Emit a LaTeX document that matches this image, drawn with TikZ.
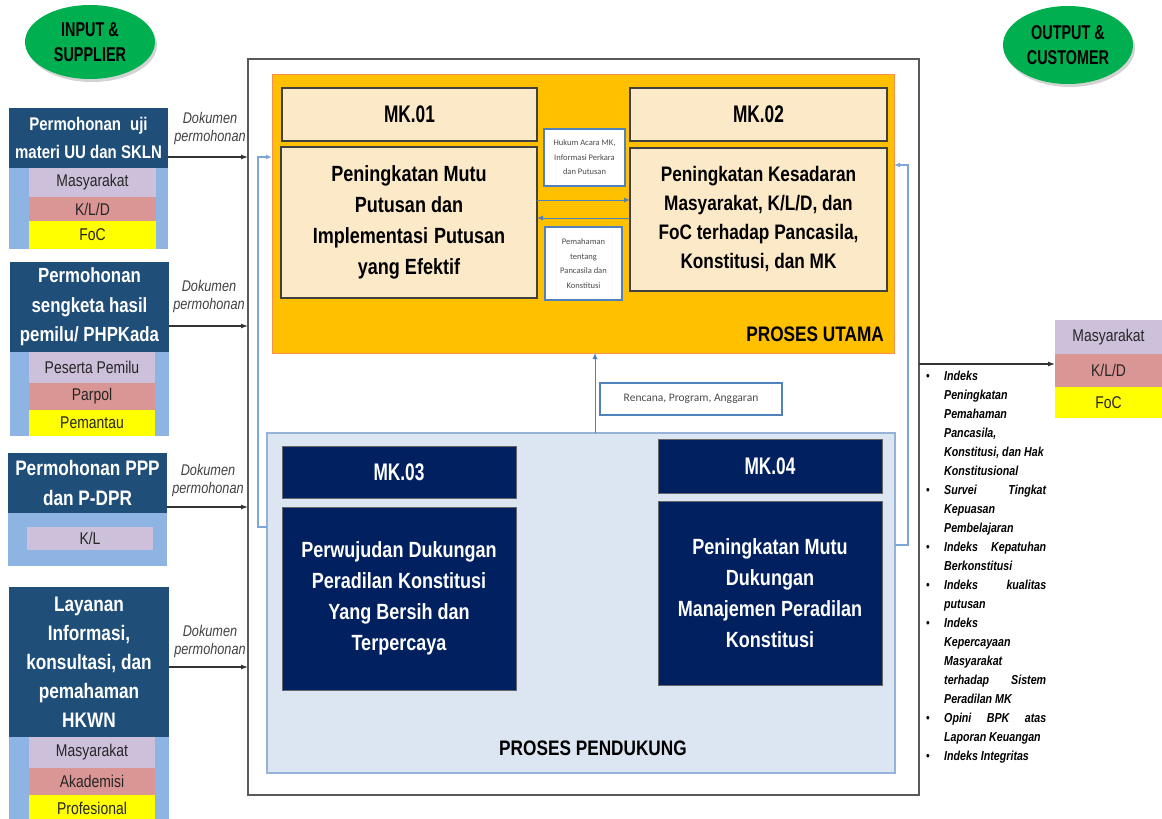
\documentclass[tikz,border=0pt]{standalone}
\usepackage{fontspec}
\setmainfont[FakeStretch=0.82]{Liberation Sans}
\newfontfamily\narrowf[FakeStretch=0.72]{Liberation Sans}
\newfontfamily\calib{Carlito}
\usetikzlibrary{arrows.meta,shadows,shapes.geometric}
\definecolor{hdrblue}{HTML}{1F4E79}
\definecolor{panel}{HTML}{8DB4E2}
\definecolor{lav}{HTML}{CCC0DA}
\definecolor{rose}{HTML}{DA9694}
\definecolor{yel}{HTML}{FFFF00}
\definecolor{grn}{HTML}{00B050}
\definecolor{orng}{HTML}{FFC000}
\definecolor{orngb}{HTML}{F58F4E}
\definecolor{cream}{HTML}{FCE9C7}
\definecolor{navy}{HTML}{002060}
\definecolor{pale}{HTML}{DCE6F2}
\definecolor{paleb}{HTML}{95B3D7}
\definecolor{conblue}{HTML}{4F81BD}
\definecolor{loopblue}{HTML}{7EA6D8}
\newcommand\myfs[2]{\fontsize{#1}{#2}\selectfont}
\begin{document}
\begin{tikzpicture}[x=1pt,y=-1pt,
  bx/.style n args={2}{minimum width=#1pt, minimum height=#2pt, anchor=north west, inner sep=0pt, outer sep=0pt, align=center},
  hdr/.style={fill=hdrblue, text=white, font=\bfseries},
  strip/.style={text=black!85},
  oval/.style={ellipse, fill=grn, inner sep=0pt, align=center, font=\narrowf\myfs{20}{25}\bfseries,
     drop shadow={shadow xshift=2pt, shadow yshift=-3pt, opacity=0.35}},
  creambox/.style={fill=cream, draw=black!75, line width=1.2pt, font=\bfseries},
  navybox/.style={fill=navy, draw=black!60, line width=1pt, text=white, font=\bfseries},
  infobox/.style={fill=white, draw=conblue, line width=2.5pt, font=\calib\myfs{8.5}{14.5}, text=black!70},
  arr/.style={-{Latex[length=7pt,width=5pt]}, line width=1.2pt, draw=black!80},
  barr/.style={-{Latex[length=6pt,width=5pt]}, line width=1pt, draw=conblue},
  loopl/.style={-{Latex[length=6pt,width=5pt]}, line width=1.2pt, draw=loopblue},
  doklbl/.style={align=center, font=\itshape\myfs{15.5}{18}, text=black!75, inner sep=0pt}
]
\useasboundingbox (0,0) rectangle (1162,819);

% ellipses
\node[oval, minimum width=130pt, minimum height=74pt] (inp) at (90,42) {INPUT \&\\SUPPLIER};
\node[oval, minimum width=130pt, minimum height=78pt] (outp) at (1068,45) {OUTPUT \&\\CUSTOMER};

% left box 1
\node[bx={159}{141}, fill=panel] (p1) at (9,108) {};
\node[bx={159}{60}, hdr, font=\bfseries\myfs{18.3}{28}] (h1) at (9,108) {Permohonan\hspace{9pt}uji\\materi UU dan SKLN};
\node[bx={127}{29}, strip, fill=lav, font=\myfs{17}{20}] (s1a) at (29,168) {Masyarakat};
\node[bx={127}{24}, strip, fill=rose, font=\myfs{17}{20}] (s1b) at (29,197) {K/L/D};
\node[bx={127}{28}, strip, fill=yel, font=\myfs{17}{20}] (s1c) at (29,221) {FoC};

% left box 2
\node[bx={159}{174}, fill=panel] (p2) at (10,262) {};
\node[bx={159}{90}, hdr, font=\bfseries\myfs{20.5}{29.5}] (h2) at (10,262) {Permohonan\\sengketa hasil\\pemilu/ PHPKada};
\node[bx={126}{31}, strip, fill=lav, font=\myfs{17}{20}] (s2a) at (29,352) {Peserta Pemilu};
\node[bx={126}{27}, strip, fill=rose, font=\myfs{17}{20}] (s2b) at (29,383) {Parpol};
\node[bx={126}{26}, strip, fill=yel, font=\myfs{17}{20}] (s2c) at (29,410) {Pemantau};

% left box 3
\node[bx={159}{113}, fill=panel] (p3) at (8,453) {};
\node[bx={159}{60}, hdr, font=\bfseries\myfs{21}{30}] (h3) at (8,453) {Permohonan PPP\\dan P-DPR};
\node[bx={126}{23}, strip, fill=lav, font=\myfs{17}{20}] (s3) at (27,527) {K/L};

% left box 4
\node[bx={160}{232}, fill=panel] (p4) at (9,587) {};
\node[bx={160}{150}, hdr, font=\bfseries\myfs{21}{29}] (h4) at (9,587) {Layanan\\Informasi,\\konsultasi, dan\\pemahaman\\HKWN};
\node[bx={126}{31}, strip, fill=lav, font=\myfs{17}{20}] (s4a) at (29,737) {Masyarakat};
\node[bx={126}{27}, strip, fill=rose, font=\myfs{17}{20}] (s4b) at (29,768) {Akademisi};
\node[bx={126}{26}, strip, fill=yel, font=\myfs{17}{20}] (s4c) at (29,795) {Profesional};

% big frame
\node[bx={671}{736}, fill=white, draw=black!65, line width=1.3pt] (big) at (248,59) {};

% input arrows and labels
\draw[arr] ([yshift=-19pt]h1.east) -- ([yshift=-19pt]h1.east -| big.west);
\draw[arr] ([yshift=-19pt]h2.east) -- ([yshift=-19pt]h2.east -| big.west);
\draw[arr] ([yshift=-24pt]h3.east) -- ([yshift=-24pt]h3.east -| big.west);
\draw[arr] ([yshift=-5pt]h4.east) -- ([yshift=-5pt]h4.east -| big.west);
\node[doklbl] (d1) at (210,128) {Dokumen\\permohonan};
\node[doklbl] (d2) at (209,296) {Dokumen\\permohonan};
\node[doklbl] (d3) at (208,480) {Dokumen\\permohonan};
\node[doklbl] (d4) at (210,641) {Dokumen\\permohonan};

% proses utama
\node[bx={622}{279}, fill=orng, draw=orngb, line width=1pt] (utama) at (272,74) {};
\node[bx={255}{53}, creambox, font=\narrowf\bfseries\myfs{24}{28}] (mk1h) at (282,88) {MK.01};
\node[bx={256}{151}, creambox, font=\bfseries\myfs{22}{31}] (mk1b) at (281,147) {Peningkatan Mutu\\Putusan dan\\Implementasi\hspace{6pt}Putusan\\yang Efektif};
\node[bx={257}{53}, creambox, font=\narrowf\bfseries\myfs{24}{28}] (mk2h) at (630,88) {MK.02};
\node[bx={257}{143}, creambox, font=\bfseries\myfs{21}{29}] (mk2b) at (630,148) {Peningkatan Kesadaran\\Masyarakat, K/L/D, dan\\FoC terhadap Pancasila,\\Konstitusi, dan MK};
\node[bx={81}{57}, infobox] (inf1) at (544,129) {Hukum Acara MK,\\Informasi Perkara\\dan Putusan};
\node[bx={77}{73}, infobox] (inf2) at (545,227) {Pemahaman\\tentang\\Pancasila dan\\Konstitusi};
\draw[barr] ([yshift=22.5pt]mk1b.east) -- ([yshift=22.5pt]mk1b.east -| mk2b.west);
\draw[barr] ([yshift=1.5pt]mk2b.west) -- ([yshift=1.5pt]mk2b.west -| mk1b.east);
\node[anchor=east, inner sep=0pt, font=\bfseries\myfs{21}{24}] (lblu) at (884,334) {PROSES UTAMA};

% proses pendukung
\node[bx={628}{340}, fill=pale, draw=paleb, line width=1.2pt] (pend) at (267,433) {};
\node[bx={234}{52}, navybox, font=\narrowf\bfseries\myfs{24}{28}] (mk3h) at (282,446) {MK.03};
\node[bx={234}{183}, navybox, font=\bfseries\myfs{22}{31}] (mk3b) at (282,507) {Perwujudan Dukungan\\Peradilan Konstitusi\\Yang Bersih dan\\Terpercaya};
\node[bx={224}{54}, navybox, font=\narrowf\bfseries\myfs{24}{28}] (mk4h) at (658,439) {MK.04};
\node[bx={224}{184}, navybox, font=\bfseries\myfs{22}{31}] (mk4b) at (658,501) {Peningkatan Mutu\\Dukungan\\Manajemen Peradilan\\Konstitusi};
\node[inner sep=0pt, font=\bfseries\myfs{21}{24}] (lblp) at (593,748) {PROSES PENDUKUNG};

% rencana
\node[bx={182}{32}, infobox, font=\calib\myfs{11.5}{14}] (ren) at (600,383) {Rencana, Program, Anggaran};
\draw[barr] (595,433) coordinate (rp) -- (rp |- utama.south);

% loops
\draw[loopl] ([yshift=76pt]pend.west) -- ++(-9,0) |- ([yshift=56.5pt]utama.west);
\draw[loopl] ([yshift=58pt]pend.east) -- ++(13,0) |- ([yshift=48.5pt]utama.east);

% output
\node[bx={107}{34}, strip, fill=lav, font=\myfs{17}{20}] (oM) at (1055,320) {Masyarakat};
\node[bx={107}{33}, strip, fill=rose, font=\myfs{17}{20}] (oK) at (1055,354) {K/L/D};
\node[bx={107}{31}, strip, fill=yel, font=\myfs{17}{20}] (oF) at (1055,387) {FoC};
\draw[arr] ([yshift=63pt]big.east) -- ([yshift=63pt]big.east -| oK.west);

% bullet list
\node[anchor=north west, inner sep=0pt, font=\bfseries\itshape\myfs{13}{19}] (bl) at (926,367) {%
\begin{tabular}{@{}p{18pt}@{}p{102pt}@{}}
{\upshape\mdseries\textbullet} & Indeks\\
& Peningkatan\\
& Pemahaman\\
& Pancasila,\\
& Konstitusi, dan Hak\\
& Konstitusional\\
{\upshape\mdseries\textbullet} & Survei \hfill Tingkat\\
& Kepuasan\\
& Pembelajaran\\
{\upshape\mdseries\textbullet} & Indeks \hfill Kepatuhan\\
& Berkonstitusi\\
{\upshape\mdseries\textbullet} & Indeks \hfill kualitas\\
& putusan\\
{\upshape\mdseries\textbullet} & Indeks\\
& Kepercayaan\\
& Masyarakat\\
& terhadap \hfill Sistem\\
& Peradilan MK\\
{\upshape\mdseries\textbullet} & Opini \hfill BPK \hfill atas\\
& Laporan Keuangan\\
{\upshape\mdseries\textbullet} & Indeks Integritas
\end{tabular}};
\end{tikzpicture}
\end{document}
